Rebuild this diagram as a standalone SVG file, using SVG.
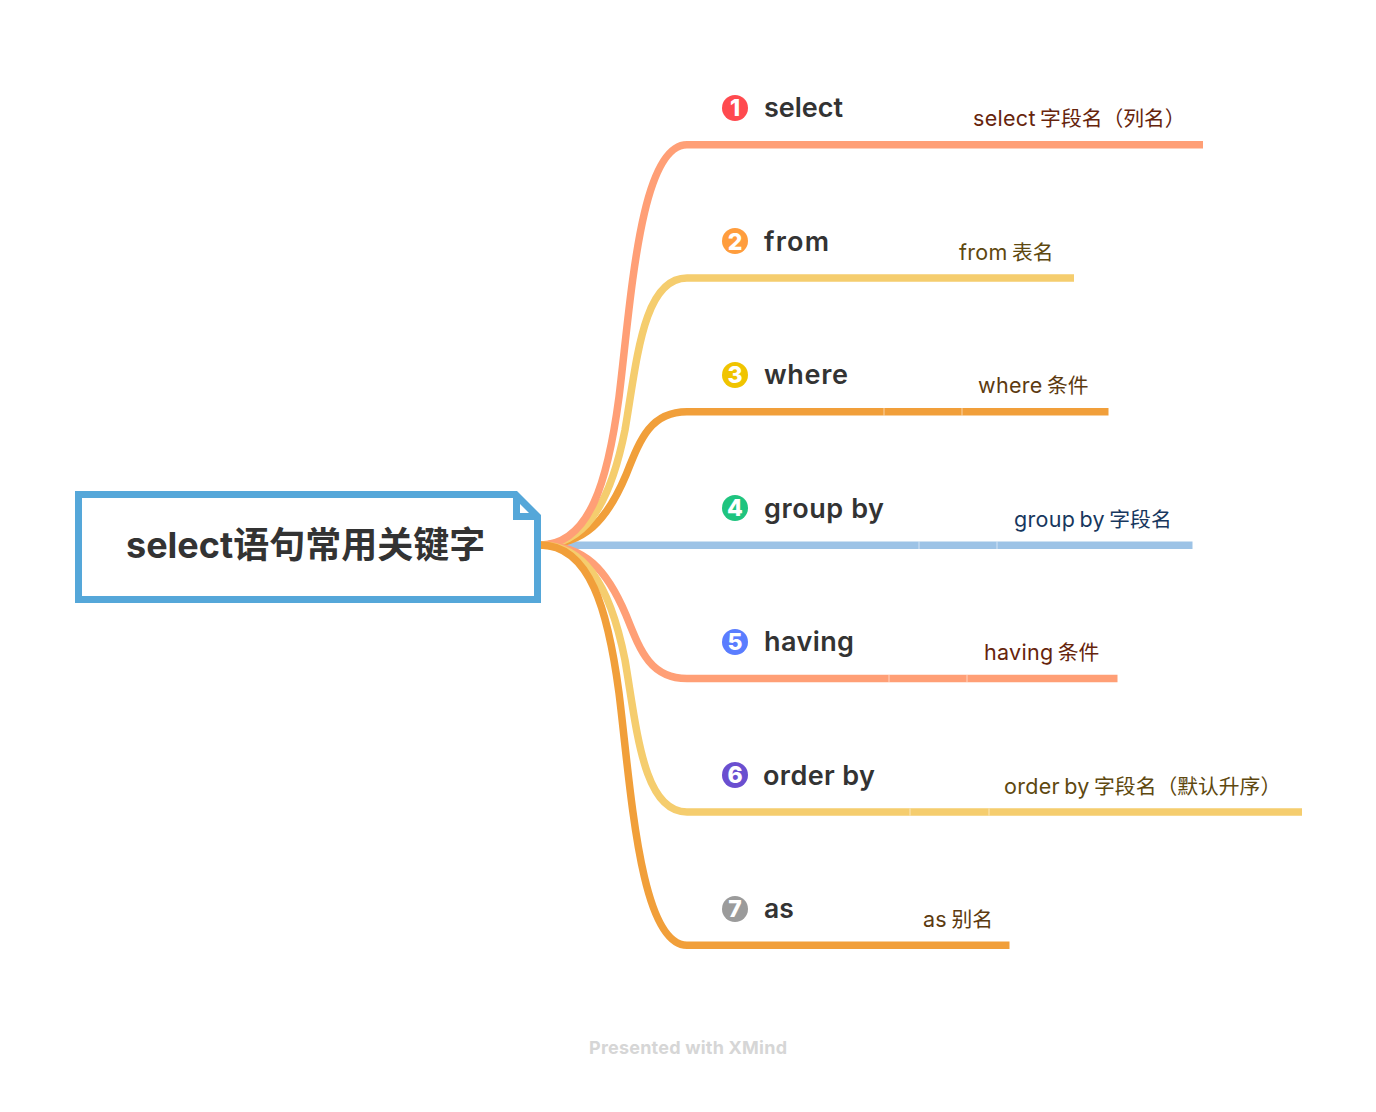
<svg xmlns="http://www.w3.org/2000/svg" width="1376" height="1112" viewBox="0 0 1376 1112">
<style>
text{font-family:Inter,"Noto Sans CJK SC","Noto Sans",sans-serif}
.c{fill:none;stroke-width:7.500}
.s{stroke:#ff9f76}.y{stroke:#f5cd6e}.o{stroke:#f19f3a}.b{stroke:#9dc3e6}
.seam{stroke:#fff;stroke-opacity:.55;stroke-width:1}
.t{font-size:27px;font-weight:600;fill:#333}
.d{font-size:21.500px;letter-spacing:.3px;word-spacing:-2px}
.d tspan{font-size:20.800px;letter-spacing:0}
.n{font-size:23px;font-weight:800;fill:#fff;text-anchor:middle}
</style>
<rect width="1376" height="1112" fill="#fff"/>
<g id="connectors">
<path class="c b" d="M540 545.300H1192.500"/>
<path class="c o" d="M540 545C585 545 607 520 626 475C640 440 650 411.800 687 411.800H1108.500"/>
<path class="c y" d="M540 545C582 545 609 510 625 430C637 360 643 278 687 278H1074"/>
<path class="c s" d="M540 545C590 545 608 480 619 397C631 300 640 144.700 687 144.700H1203"/>
<path class="c s" d="M540 545C585 545 607 570 626 615C640 650 650 678.500 687 678.500H1117.500"/>
<path class="c y" d="M540 545C582 545 609 580 625 660C637 730 643 812 687 812H1302"/>
<path class="c o" d="M540 545C590 545 608 610 619 693C631 790 640 945.300 687 945.300H1009.500"/>
<path class="seam" d="M884 408V415.500M962 408V415.500M919 541.500V549M997 541.500V549M889 675V682M967 675V682M910 808.500V815.500M989 808.500V815.500"/>
</g>
<g id="root">
<path d="M75 491H517L541 515V603H75Z" fill="#55a7d9"/>
<path d="M82 498H513V520H534V596H82Z" fill="#fff"/>
<path d="M520 504V513H529Z" fill="#fff"/>
<text x="126" y="558" font-size="36" font-weight="700" fill="#333">select语句常用关键字</text>
</g>
<g id="node-1"><circle cx="735" cy="108" r="13" fill="#ff4a4f"/><text class="n" x="735" y="116">1</text><text class="t" x="764" y="117" textLength="79">select</text><text class="d" x="973" y="126" fill="#66240c">select <tspan>字段名（列名）</tspan></text></g>
<g id="node-2"><circle cx="735" cy="241" r="13" fill="#ff9d3d"/><text class="n" x="735" y="249.500">2</text><text class="t" x="764" y="251" textLength="65">from</text><text class="d" x="959" y="260" fill="#5e480f">from <tspan>表名</tspan></text></g>
<g id="node-3"><circle cx="735" cy="375" r="13" fill="#f0c400"/><text class="n" x="735" y="383">3</text><text class="t" x="764" y="384" textLength="84">where</text><text class="d" x="978" y="393" fill="#5c3a10">where <tspan>条件</tspan></text></g>
<g id="node-4"><circle cx="735" cy="508" r="13" fill="#1fc47f"/><text class="n" x="735" y="516">4</text><text class="t" x="764" y="518" textLength="120">group by</text><text class="d" x="1014" y="527" fill="#17375e">group by <tspan>字段名</tspan></text></g>
<g id="node-5"><circle cx="735" cy="642" r="13" fill="#5a7dff"/><text class="n" x="735" y="650">5</text><text class="t" x="764" y="651" textLength="90">having</text><text class="d" x="984" y="660" fill="#66240c">having <tspan>条件</tspan></text></g>
<g id="node-6"><circle cx="735" cy="775" r="13" fill="#6a4fd0"/><text class="n" x="735" y="783">6</text><text class="t" x="763" y="785" textLength="112">order by</text><text class="d" x="1004" y="794" fill="#5e480f">order by <tspan>字段名（默认升序）</tspan></text></g>
<g id="node-7"><circle cx="735" cy="909" r="13" fill="#9b9b9b"/><text class="n" x="735" y="917">7</text><text class="t" x="764" y="918" style="font-size:26.500px">as</text><text class="d" x="923" y="927" fill="#5c3a10">as <tspan>别名</tspan></text></g>
<text x="589" y="1054" font-size="18" font-weight="700" fill="#d6d6d6" textLength="198">Presented with XMind</text>
</svg>
